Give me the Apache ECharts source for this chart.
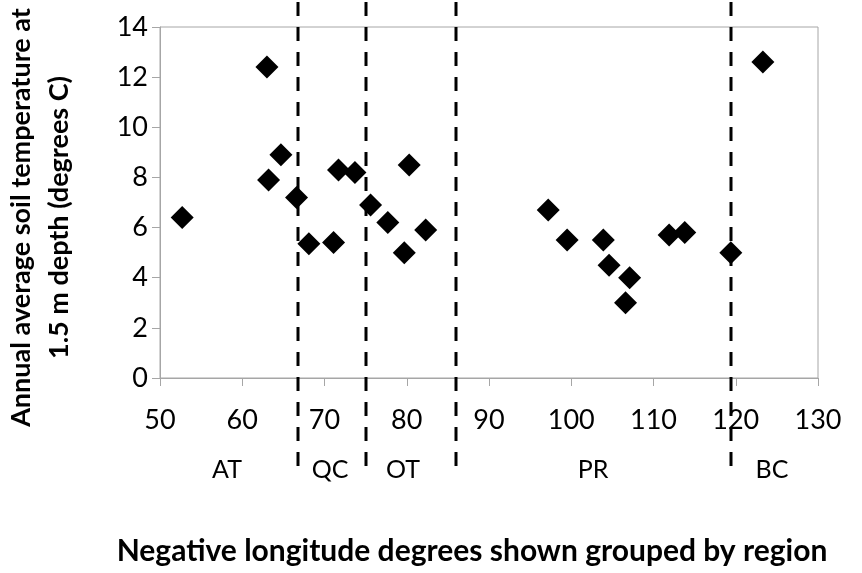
<!DOCTYPE html>
<html>
<head>
<meta charset="UTF-8">
<title>Soil temperature by longitude</title>
<script src="https://cdn.jsdelivr.net/npm/echarts@6/dist/echarts.min.js"></script>
</head>
<body style="margin:0">
<div id="main" style="width:862px;height:573px;"></div>
<script>
    // points
    const longitude = [52.7, 63.0, 63.2, 64.7, 66.6, 68.1, 71.1, 71.7, 73.7, 75.6, 77.7, 79.7, 80.3, 82.3,
        97.2, 99.5, 103.9, 104.6, 106.6, 107.1, 111.9, 113.8, 119.4, 123.3];
    const soilTemp = [6.4, 12.4, 7.9, 8.9, 7.2, 5.35, 5.4, 8.3, 8.2, 6.9, 6.2, 5.0, 8.5, 5.9,
        6.7, 5.5, 5.5, 4.5, 3.0, 4.0, 5.7, 5.8, 5.0, 12.6];

    // region boundaries and labels
    const dividers = [66.8, 75.0, 86.0, 119.4];
    const regionNames = ['AT', 'QC', 'OT', 'PR', 'BC'];
    const regionCentres = [58.2, 70.7, 79.5, 102.6, 124.4];

    const points = longitude.map((x, i) => [x, soilTemp[i]]);
    const grey = '#a6a6a6';
    const font = 'Lato';

    const option = {
        animation: false,
        grid: {
            left: 160, right: 44, top: 27, bottom: 195,
            outerBoundsMode: 'none',
            show: true, borderColor: grey, borderWidth: 1
        },
        xAxis: {
            type: 'value', min: 50, max: 130, interval: 10,
            name: 'Negative longitude degrees shown grouped by region',
            nameLocation: 'middle', nameGap: 158,
            nameTextStyle: { fontFamily: font, fontWeight: 'bold', fontSize: 30, color: '#000', padding: [0, 34, 0, 0] },
            axisLine: { lineStyle: { color: grey } },
            axisTick: { length: 8, lineStyle: { color: grey } },
            splitLine: { show: false },
            axisLabel: { margin: 29, fontFamily: font, fontSize: 27, color: '#000' }
        },
        yAxis: {
            type: 'value', min: 0, max: 14, interval: 2,
            name: 'Annual average soil temperature at\n1.5 m depth (degrees C)',
            nameLocation: 'middle', nameRotate: 90, nameGap: 82,
            nameTextStyle: { fontFamily: font, fontWeight: 'bold', fontSize: 27, lineHeight: 38, color: '#000', padding: [0, 30, 0, 0] },
            axisLine: { show: true, lineStyle: { color: grey } },
            axisTick: { show: true, length: 8, lineStyle: { color: grey } },
            splitLine: { show: false },
            axisLabel: { margin: 12, fontFamily: font, fontSize: 27, color: '#000' }
        },
        series: [{
            type: 'scatter',
            data: points,
            symbol: 'diamond',
            symbolSize: 23,
            itemStyle: { color: '#000', opacity: 1 }
        }]
    };

    const chart = echarts.init(document.getElementById('main'));
    chart.setOption(option);

    // dashed region dividers run past the plot, region names sit under the ticks
    function drawExtras() {
        const toX = v => Math.round(chart.convertToPixel({ xAxisIndex: 0 }, v));
        const lines = dividers.map(v => ({
            type: 'line', z: 1,
            shape: { x1: toX(v), y1: 2, x2: toX(v), y2: 474 },
            style: { stroke: '#000', lineWidth: 3, lineDash: [14, 11] }
        }));
        const labels = regionNames.map((n, i) => ({
            type: 'text', z: 1,
            x: toX(regionCentres[i]), y: 470,
            style: { text: n, font: '25px Lato', fill: '#000', align: 'center', verticalAlign: 'middle' }
        }));
        chart.setOption({ graphic: lines.concat(labels) });
    }
    drawExtras();
</script>
</body>
</html>
